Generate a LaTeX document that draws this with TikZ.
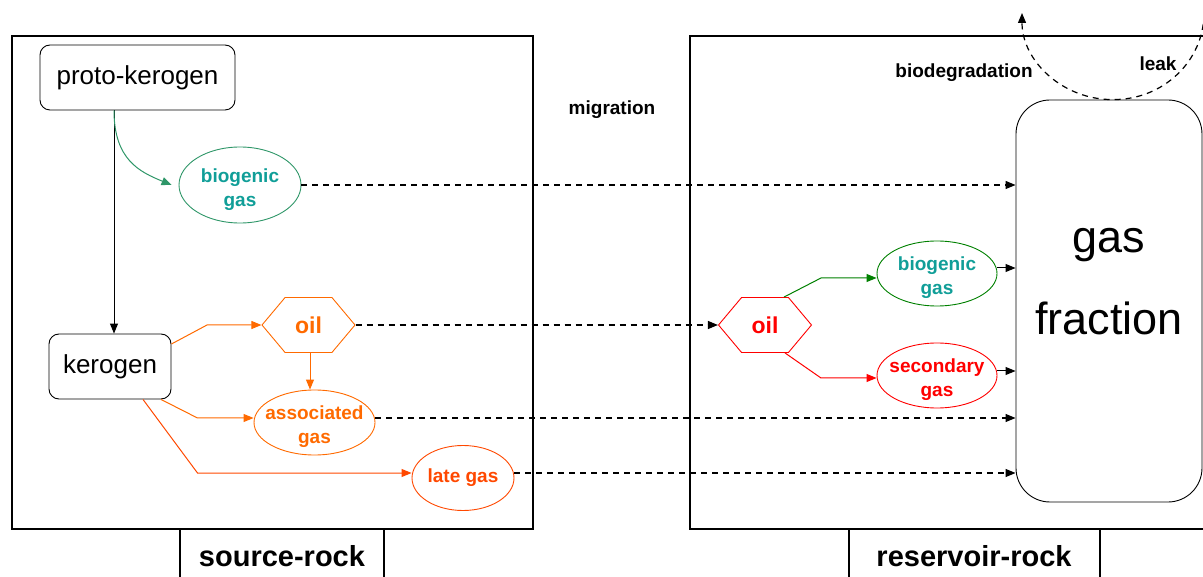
\documentclass[tikz,border=0pt]{standalone}
\usepackage{fontspec}
\setmainfont{Liberation Sans}
\usetikzlibrary{arrows.meta,shapes.geometric,shapes.symbols}

\definecolor{tealtext}{RGB}{16,158,152}
\definecolor{seagreen}{RGB}{46,150,104}
\definecolor{darkgreen}{RGB}{0,128,0}
\definecolor{orangeA}{RGB}{255,106,0}
\definecolor{orangeB}{RGB}{255,72,0}
\definecolor{redA}{RGB}{255,0,0}

% taller first line so two-line labels sit a little lower in their ellipse
\newcommand{\topstrut}{\rule{0pt}{23pt}}

\tikzset{
  frame/.style={line width=2.4pt},
  procbox/.style={draw, line width=0.9pt, rounded corners=10pt, inner sep=0pt,
    font=\fontsize{26}{30}\selectfont},
  gasnode/.style={ellipse, draw, line width=0.9pt, inner xsep=-22pt, inner ysep=-12pt,
    align=center, font=\fontsize{19}{24}\bfseries},
  oilnode/.style={signal, signal to=west and east, signal pointer angle=100,
    draw, line width=0.9pt, inner sep=0pt, minimum width=93pt, minimum height=55pt,
    font=\fontsize{23}{27}\bfseries},
  flow/.style={line width=1pt, -{Triangle[length=10pt,width=8pt]}},
  mig/.style={line width=1.2pt, dash pattern=on 6pt off 5pt, -{Triangle[length=10pt,width=8pt]}},
  lbl/.style={font=\fontsize{19}{24}\bfseries},
  rocklbl/.style={font=\fontsize{29}{33}\bfseries},
}

\begin{document}
\begin{tikzpicture}[x=1pt, y=-1pt]
\useasboundingbox (0,0) rectangle (1203,577);

% rock compartments and their labels
\draw[frame] (12,36) rectangle (533,529);
\draw[frame] (180,529) -- (180,580) (384,529) -- (384,580);
\node[rocklbl] (srclbl) at (282,556) {source-rock};

\draw[frame] (1215,36) -- (690,36) -- (690,529) -- (1215,529);
\draw[frame] (849,529) -- (849,580) (1100,529) -- (1100,580);
\node[rocklbl] (reslbl) at (974,556) {reservoir-rock};

% source rock
\node[procbox, minimum width=195pt, minimum height=65pt] (proto) at (137.5,77.5) {proto-kerogen};
\node[procbox, minimum width=122pt, minimum height=65pt] (kerogen) at (110,366.5) {kerogen};
\node[gasnode, draw=seagreen, text=tealtext, minimum width=122pt, minimum height=76pt] (biogL) at (240,185) {\topstrut biogenic\\gas};
\node[oilnode, draw=orangeA, text=orangeA] (oilL) at (308.5,325) {oil};
\node[gasnode, draw=orangeA, text=orangeA, minimum width=121pt, minimum height=65pt] (assoc) at (314.5,422.5) {\topstrut associated\\gas};
\node[gasnode, draw=orangeB, text=orangeB, minimum width=102pt, minimum height=65pt] (late) at (463,478) {late gas};

% reservoir rock
\node[oilnode, draw=redA, text=redA] (oilR) at (765,325) {oil};
\node[gasnode, draw=darkgreen, text=tealtext, minimum width=120pt, minimum height=65pt] (biogR) at (937,273.5) {\topstrut biogenic\\gas};
\node[gasnode, draw=redA, text=redA, minimum width=120pt, minimum height=65pt] (secgas) at (937,375.5) {\topstrut secondary\\gas};
\node[draw, line width=0.9pt, rounded corners=34pt, minimum width=186pt, minimum height=402pt] (gasfrac) at (1109,301) {};
\node[align=center, font=\fontsize{45}{82}\selectfont] (gasfractxt) at ([yshift=19pt]gasfrac.center) {gas\\fraction};

% free labels
\node[lbl] (miglbl) at (612,110) {migration};
\node[lbl] (biodeg) at (964,73) {biodegradation};
\node[lbl] (leak) at (1158,64) {leak};

% generation paths in the source rock
\draw[flow] (proto.south -| 114,0) -- (kerogen.north -| 114,0);
\draw[flow, seagreen] (proto.south -| 114,0) .. controls (114,160) and (140,172) .. ([xshift=-7pt]biogL.west);
\draw[flow, orangeA] (kerogen.east |- 0,344) -- (207,325) -- (oilL.west);
\draw[flow, orangeA] (kerogen.south -| 161,0) -- (197.5,418) -- (assoc.west |- 0,418);
\draw[flow, orangeB] (kerogen.south -| 143,0) -- (197.5,473) -- (late.west |- 0,473);
\draw[flow, orangeA] (oilL.south -| 310,0) -- (assoc.north -| 310,0);

% migration into the reservoir
\draw[mig] (biogL.east) -- (gasfrac.west |- biogL.east);
\draw[mig] (oilL.east) -- (oilR.west);
\draw[mig] (assoc.east |- 0,418) -- (gasfrac.west |- 0,418);
\draw[mig] (late.east |- 0,473) -- (gasfrac.west |- 0,473);

% alteration in the reservoir
\draw[flow, darkgreen] (oilR.north -| 784,0) -- (821,278) -- (biogR.west |- 0,278);
\draw[flow, redA] (oilR.south -| 785,0) -- (821,378) -- (secgas.west |- 0,378);
\draw[flow] (biogR.east |- 0,268) -- (gasfrac.west |- 0,268);
\draw[flow] (secgas.east |- 0,371) -- (gasfrac.west |- 0,371);

% leakage out of the trap
\coordinate (leakstart) at (1204,13);
\coordinate (leaktop) at (1022,13);
\draw[mig] (leakstart) .. controls (1204,61) and (1163,100) .. (gasfrac.north -| 1113,0)
  .. controls (1063,100) and (1022,61) .. (leaktop);
\end{tikzpicture}
\end{document}
